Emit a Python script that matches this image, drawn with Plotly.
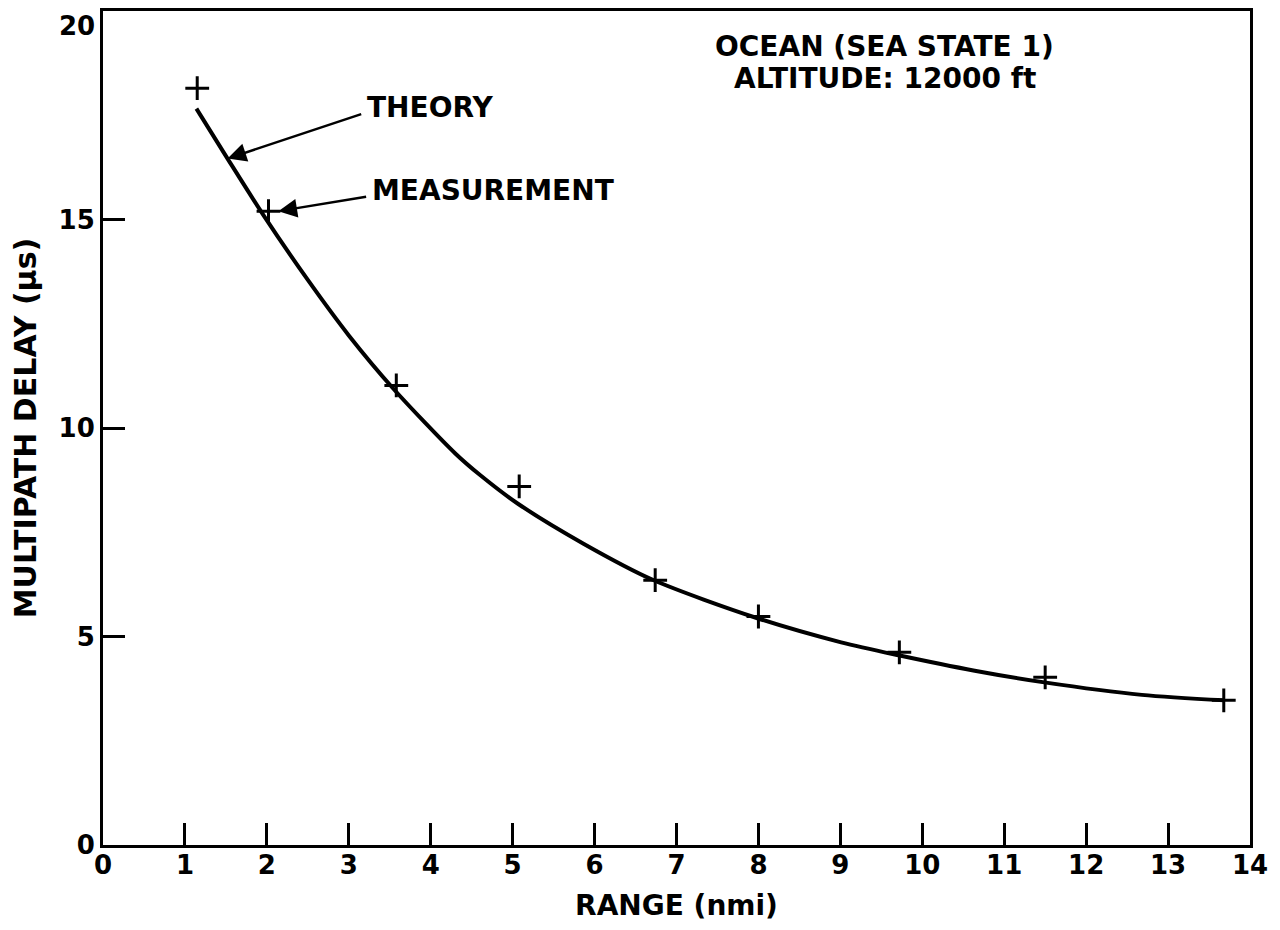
import plotly.graph_objects as go

# Theory curve
theory_x = [1.14, 1.52, 1.96, 2.5, 3.0, 3.55, 4.3, 4.61, 5.06, 5.87, 6.71, 7.97, 9.01, 9.71, 10.64, 11.49, 12.68, 13.69]
theory_y = [17.66, 16.46, 15.1, 13.55, 12.22, 10.93, 9.39, 8.86, 8.19, 7.22, 6.36, 5.45, 4.86, 4.55, 4.18, 3.9, 3.6, 3.47]

# Measurements
meas_x = [1.15, 2.02, 3.58, 5.08, 6.74, 8.0, 9.72, 11.5, 13.68]
meas_y = [18.15, 15.2, 11.02, 8.6, 6.35, 5.48, 4.62, 4.02, 3.47]

x_ticks = list(range(0, 15))
y_ticks = [0, 5, 10, 15, 20]
y_ticktext = ["0", "5", "10", "15", ""]   # the top label "20" is drawn just below the frame
y_top_label = "20"

FONT = "DejaVu Sans"
BOLD = dict(family=FONT, size=28, color="black", weight="bold")
TICKFONT = dict(family=FONT, size=26, color="black", weight="bold")

fig = go.Figure()
fig.add_trace(go.Scatter(x=theory_x, y=theory_y, mode="lines",
                         line=dict(color="black", width=4, shape="spline", smoothing=0.8),
                         showlegend=False, hoverinfo="skip"))
fig.add_trace(go.Scatter(x=meas_x, y=meas_y, mode="markers",
                         marker=dict(symbol="cross-thin", size=17, line=dict(color="black", width=3)),
                         showlegend=False))

# Labels with arrows
fig.add_annotation(x=1.52, y=16.46, ax=3.17, ay=17.54, axref="x", ayref="y", xref="x", yref="y",
                   text="", showarrow=True, arrowhead=2, arrowsize=1.5, arrowwidth=2.5, arrowcolor="black")
fig.add_annotation(x=3.20, y=17.68, xref="x", yref="y", text="THEORY", showarrow=False,
                   xanchor="left", yanchor="middle", font=BOLD)
fig.add_annotation(x=2.14, y=15.2, ax=3.23, ay=15.55, axref="x", ayref="y", xref="x", yref="y",
                   text="", showarrow=True, arrowhead=2, arrowsize=1.5, arrowwidth=2.5, arrowcolor="black")
fig.add_annotation(x=3.26, y=15.69, xref="x", yref="y", text="MEASUREMENT", showarrow=False,
                   xanchor="left", yanchor="middle", font=BOLD)
fig.add_annotation(x=9.54, y=19.16, xref="x", yref="y", text="OCEAN (SEA STATE 1)",
                   showarrow=False, xanchor="center", yanchor="middle", font=BOLD)
fig.add_annotation(x=9.54, y=18.37, xref="x", yref="y", text="ALTITUDE: 12000 ft",
                   showarrow=False, xanchor="center", yanchor="middle", font=BOLD)
# top y tick label
fig.add_annotation(x=0, y=y_ticks[-1], xref="x", yref="y", text=y_top_label, showarrow=False,
                   xanchor="right", yanchor="top", xshift=-6, yshift=2, font=TICKFONT)

axis_common = dict(showgrid=False, zeroline=False, showline=True, linecolor="black", linewidth=3,
                   mirror=True, ticks="inside", ticklen=22, tickwidth=2.5, tickcolor="black",
                   ticklabeloverflow="allow", automargin=False, tickfont=TICKFONT)

fig.update_xaxes(range=[0, 14], tickvals=x_ticks, ticktext=[str(v) for v in x_ticks],
                 ticklabelstandoff=-5,
                 title=dict(text="RANGE (nmi)", font=dict(family=FONT, size=28, color="black", weight="bold"),
                            standoff=29),
                 **axis_common)
fig.update_yaxes(range=[0, 20], tickvals=y_ticks, ticktext=y_ticktext,
                 title=dict(text="MULTIPATH DELAY (μs)", font=dict(family=FONT, size=30, color="black", weight="bold"),
                            standoff=14),
                 **axis_common)

fig.update_layout(width=1264, height=914, margin=dict(l=95, r=22, t=3, b=77),
                  plot_bgcolor="white", paper_bgcolor="white")

fig.write_html("out.html")
